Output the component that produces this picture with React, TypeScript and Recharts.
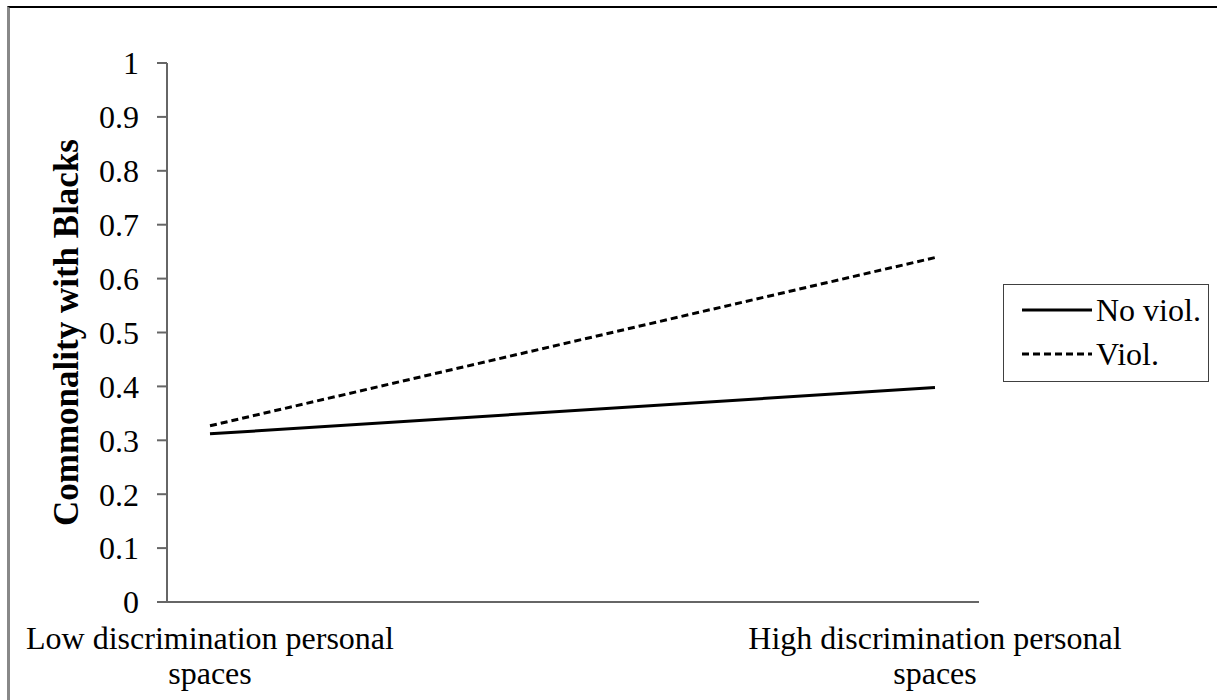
import React from 'react';
import { LineChart, Line, XAxis, YAxis } from 'recharts';

const categories = ['Low discrimination personal spaces', 'High discrimination personal spaces'];
const noViol = [0.312, 0.398];
const viol = [0.327, 0.639];
const yTicks = [0, 0.1, 0.2, 0.3, 0.4, 0.5, 0.6, 0.7, 0.8, 0.9, 1];
const yTickLabels = ['0', '0.1', '0.2', '0.3', '0.4', '0.5', '0.6', '0.7', '0.8', '0.9', '1'];
const seriesNames = ['No viol.', 'Viol.'];
const seriesDash = [undefined, '7 4'];

const data = categories.map((cat, i) => ({ cat, noViol: noViol[i], viol: viol[i] }));

const FONT = '"Liberation Serif", "Times New Roman", serif';

const CategoryTick = (props: any) => {
  const { x, y, payload } = props;
  const text: string = payload.value;
  const cut = text.lastIndexOf(' ');
  const lines = [text.slice(0, cut), text.slice(cut + 1)];
  return (
    <text x={x} y={y} textAnchor="middle" fontFamily={FONT} fontSize={32} fill="#000">
      <tspan x={x} dy={47}>{lines[0]}</tspan>
      <tspan x={x} dy={35}>{lines[1]}</tspan>
    </text>
  );
};

const YLabel = (props: any) => {
  const { viewBox } = props;
  const cx = viewBox.x + 66;
  const cy = viewBox.y + viewBox.height / 2;
  return (
    <text
      x={cx}
      y={cy}
      transform={`rotate(-90, ${cx}, ${cy})`}
      textAnchor="middle"
      dominantBaseline="central"
      fontFamily={FONT}
      fontWeight="bold"
      fontSize={35}
      fill="#000"
    >
      Commonality with Blacks
    </text>
  );
};

// legend drawn as a plain box, the way the source figure has it
const LegendBox = () => (
  <div
    style={{
      position: 'absolute',
      left: 1003,
      top: 284,
      width: 204,
      height: 93,
      border: '1px solid #404040',
      background: '#fff',
      fontFamily: FONT,
      fontSize: 32,
      paddingTop: 3,
      boxSizing: 'content-box',
    }}
  >
    {seriesNames.map((name, i) => (
      <div key={name} style={{ display: 'flex', alignItems: 'center', height: 44 }}>
        <svg width={92} height={10} style={{ flex: 'none' }}>
          <line x1={18} y1={5} x2={88} y2={5} stroke="#000" strokeWidth={3} strokeDasharray={seriesDash[i]} />
        </svg>
        <span style={{ lineHeight: '32px', fontFamily: FONT }}>{name}</span>
      </div>
    ))}
  </div>
);

export default function App() {
  return (
    <div style={{ position: 'absolute', left: 0, top: 0, width: 1217, height: 700, overflow: 'hidden', background: '#fff' }}>
      <div
        style={{
          position: 'absolute',
          left: 7,
          top: 6,
          width: 1400,
          height: 900,
          borderTop: '2px solid #000',
          borderLeft: '3px solid #888',
        }}
      />
      <div style={{ position: 'absolute', left: 0, top: 0 }}>
        <LineChart width={1217} height={700} data={data} margin={{ top: 63, right: 238, left: 0, bottom: 0 }}>
          <XAxis
            dataKey="cat"
            height={98}
            padding={{ left: 43, right: 44 }}
            tickLine={false}
            tickSize={0}
            tickMargin={0}
            axisLine={{ stroke: '#666', strokeWidth: 2 }}
            tick={<CategoryTick />}
            interval={0}
          />
          <XAxis xAxisId="top" orientation="top" dataKey="cat" height={0} tick={false} tickLine={false} axisLine={{ stroke: '#888', strokeWidth: 2 }} />
          <YAxis
            domain={[0, 1]}
            ticks={yTicks}
            width={167}
            tickSize={10}
            tickMargin={18}
            tickLine={{ stroke: '#666', strokeWidth: 2 }}
            axisLine={{ stroke: '#666', strokeWidth: 2 }}
            tick={{ fontFamily: FONT, fontSize: 32, fill: '#000' }}
            tickFormatter={(v: number) => yTickLabels[yTicks.indexOf(v)] ?? String(v)}
            interval={0}
            label={<YLabel />}
          />
          <YAxis yAxisId="right" orientation="right" width={0} tick={false} tickLine={false} axisLine={{ stroke: '#888', strokeWidth: 2 }} />
          <Line
            type="linear"
            dataKey="noViol"
            name={seriesNames[0]}
            stroke="#000"
            strokeWidth={3}
            dot={false}
            isAnimationActive={false}
          />
          <Line
            type="linear"
            dataKey="viol"
            name={seriesNames[1]}
            stroke="#000"
            strokeWidth={3}
            strokeDasharray={seriesDash[1]}
            dot={false}
            isAnimationActive={false}
          />
        </LineChart>
      </div>
      <LegendBox />
    </div>
  );
}
